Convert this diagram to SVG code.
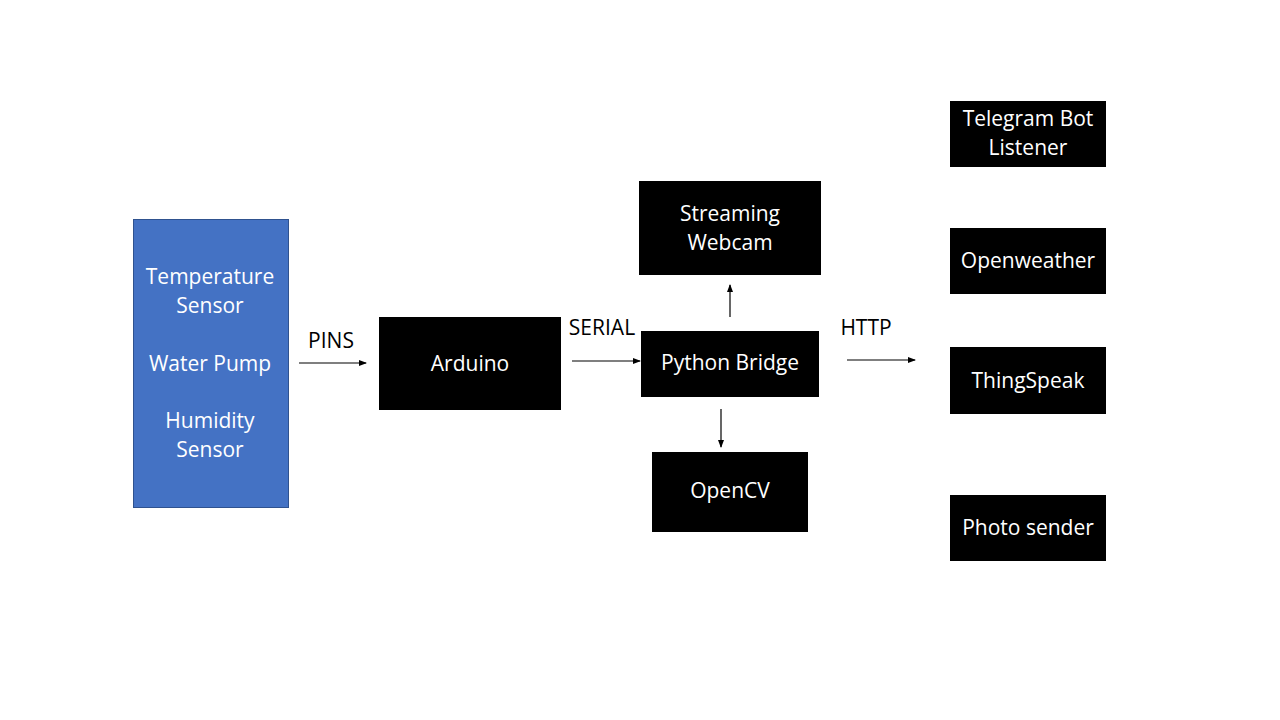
<svg xmlns="http://www.w3.org/2000/svg" width="1280" height="720" viewBox="0 0 1280 720">
<defs>
<marker id="ah" markerWidth="8" markerHeight="6" refX="7" refY="3" orient="auto" markerUnits="userSpaceOnUse">
<path d="M0,0 L8,3 L0,6 Z" fill="#000"/>
</marker>
<style>
.box{fill:#000}
.wt{fill:#fff;font-family:"Open Sans",Lato,sans-serif;font-size:21px;text-anchor:middle}
.bt{fill:#000;font-family:"Open Sans",Lato,sans-serif;font-size:21px;text-anchor:middle}
.conn{stroke:#000;stroke-width:1.2;fill:none;marker-end:url(#ah)}
</style>
</defs>
<rect width="1280" height="720" fill="#fff"/>
<g id="sensors">
<rect x="133.5" y="219.5" width="155" height="288" fill="#4472C4" stroke="#2F528F" stroke-width="1"/>
<text class="wt" x="210" y="284">Temperature</text>
<text class="wt" x="210" y="313">Sensor</text>
<text class="wt" x="210" y="371">Water Pump</text>
<text class="wt" x="210" y="428">Humidity</text>
<text class="wt" x="210" y="457">Sensor</text>
</g>
<g id="arduino">
<rect class="box" x="379" y="317" width="182" height="93"/>
<text class="wt" x="470" y="371">Arduino</text>
</g>
<g id="webcam">
<rect class="box" x="639" y="181" width="182" height="94"/>
<text class="wt" x="730" y="221">Streaming</text>
<text class="wt" x="730" y="250">Webcam</text>
</g>
<g id="bridge">
<rect class="box" x="641" y="331" width="178" height="66"/>
<text class="wt" x="730" y="370">Python Bridge</text>
</g>
<g id="opencv">
<rect class="box" x="652" y="452" width="156" height="80"/>
<text class="wt" x="730" y="498">OpenCV</text>
</g>
<g id="telegram">
<rect class="box" x="950" y="101" width="156" height="66"/>
<text class="wt" x="1028" y="126">Telegram Bot</text>
<text class="wt" x="1028" y="155">Listener</text>
</g>
<g id="openweather">
<rect class="box" x="950" y="228" width="156" height="66"/>
<text class="wt" x="1028" y="268">Openweather</text>
</g>
<g id="thingspeak">
<rect class="box" x="950" y="347" width="156" height="67"/>
<text class="wt" x="1028" y="388">ThingSpeak</text>
</g>
<g id="photosender">
<rect class="box" x="950" y="495" width="156" height="66"/>
<text class="wt" x="1028" y="535">Photo sender</text>
</g>
<g id="connectors">
<line class="conn" x1="299" y1="363" x2="366" y2="363"/>
<line class="conn" x1="572" y1="361" x2="640" y2="361"/>
<line class="conn" x1="730" y1="317" x2="730" y2="285"/>
<line class="conn" x1="721" y1="409" x2="721" y2="447"/>
<line class="conn" x1="847" y1="360" x2="915" y2="360"/>
<text class="bt" x="331" y="348">PINS</text>
<text class="bt" x="602" y="335">SERIAL</text>
<text class="bt" x="866" y="335">HTTP</text>
</g>
</svg>
